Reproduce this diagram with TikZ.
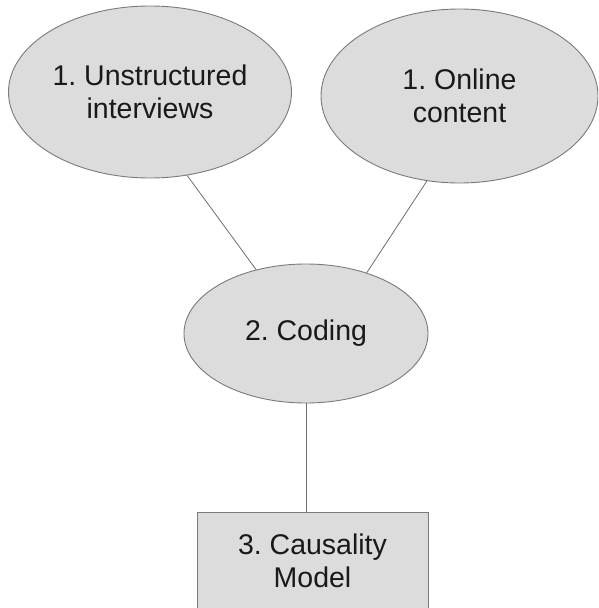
\documentclass[tikz,border=0pt]{standalone}
\usepackage{fontspec}
\setmainfont{Liberation Sans}
\usetikzlibrary{shapes.geometric}
\definecolor{fillg}{HTML}{DCDCDC}
\definecolor{edgeg}{HTML}{7A7A7A}
\definecolor{lineg}{HTML}{6E6E6E}
\tikzset{
  bubble/.style={ellipse, draw=edgeg, fill=fillg, line width=0.9pt, inner sep=0pt, align=center,
    font=\fontsize{28.5}{33}\selectfont\frenchspacing, text=black!90},
  boxnode/.style={rectangle, draw=edgeg, fill=fillg, line width=0.9pt, inner sep=0pt, align=center,
    font=\fontsize{28.5}{33}\selectfont\frenchspacing, text=black!90},
  link/.style={draw=lineg, line width=0.8pt}
}
\begin{document}
\begin{tikzpicture}[x=1pt,y=-1pt]
\clip (0,0) rectangle (598,608);
\fill[white] (0,0) rectangle (598,608);
\node[bubble, minimum width=283pt, minimum height=172pt] (a) at (150,92) {1. Unstructured\\interviews};
\node[bubble, minimum width=277pt, minimum height=174pt] (b) at (459.5,96) {1. Online\\content};
\node[bubble, minimum width=244pt, minimum height=139pt] (c) at (306,333.5) {2. Coding};
\node[boxnode, minimum width=231pt, minimum height=98pt] (d) at (312.5,561) {3. Causality\\Model};
\draw[link] (a.-66.7) -- (c.128);
\draw[link] (b.-111.6) -- (c.45);
\draw[link] (c.south) -- (c.south |- d.north);
\end{tikzpicture}
\end{document}
